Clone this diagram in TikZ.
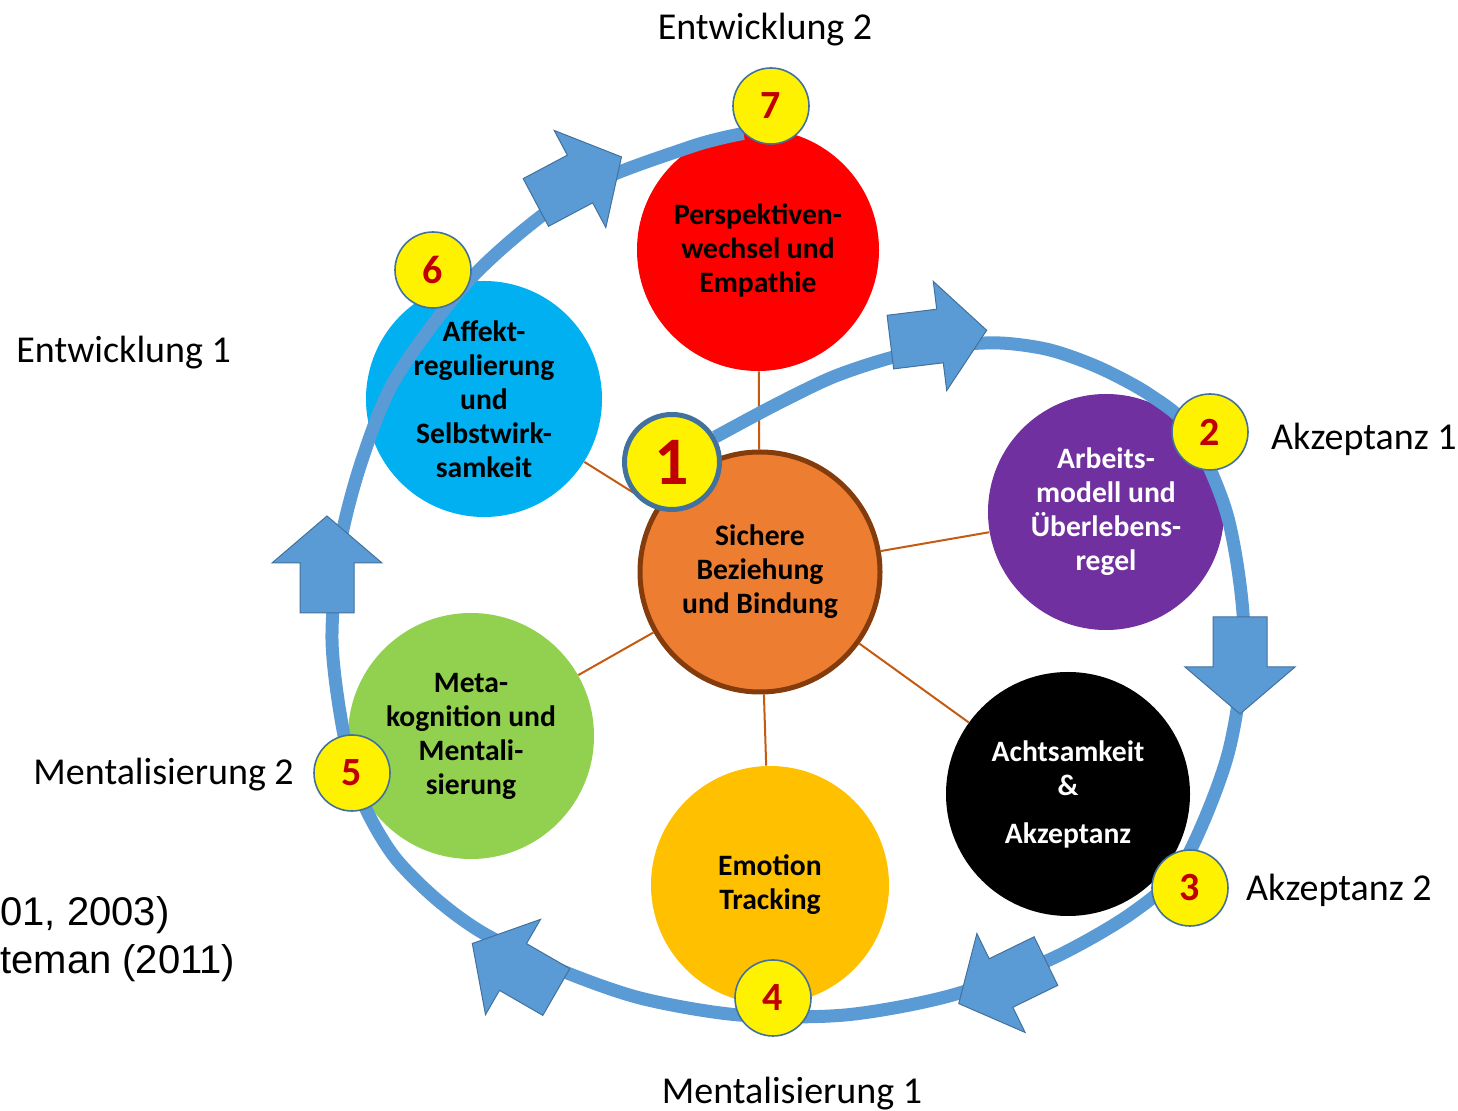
\documentclass[tikz,border=0pt]{standalone}
\usepackage{fontspec}
\setmainfont{Carlito}
\newfontfamily\refsfont{Liberation Sans}
\usepackage{tikz}
\usetikzlibrary{
	calc,
	positioning,
	shapes.geometric
}
\definecolor{ringblue}{HTML}{5B9BD5}
\definecolor{ringedge}{HTML}{41719C}
\definecolor{numred}{HTML}{C00000}
\definecolor{spokecol}{HTML}{C55A11}
\definecolor{bindfill}{HTML}{ED7D31}
\definecolor{bindedge}{HTML}{843C0C}
\definecolor{perspred}{HTML}{FF0000}
\definecolor{affektblue}{HTML}{00B0F0}
\definecolor{arbeitlila}{HTML}{7030A0}
\definecolor{emoorange}{HTML}{FFC000}
\definecolor{metagreen}{HTML}{92D050}
\pgfdeclarelayer{front}
\pgfsetlayers{main,front}

\begin{document}
\begin{tikzpicture}[x=0.5pt,y=-0.5pt,
        stage/.style={circle,minimum size=#1,inner sep=0pt,align=center,
          font=\fontsize{14.8}{17}\selectfont\bfseries},
        badge/.style={circle,draw=ringedge,line width=0.8pt,fill=yellow,
          minimum size=38pt,inner sep=0pt,text=numred,
          font=\fontsize{20}{20}\selectfont\bfseries},
        lab/.style={inner sep=0pt,font=\fontsize{19}{19}\selectfont},
        spoke/.style={draw=spokecol,line width=1pt},
        ring/.style={draw=ringblue,line width=6.5pt},
        blockarrow/.pic={
          \draw[fill=ringblue,draw=ringedge,line width=0.5pt]
            (-50,-27) -- (0,-27) -- (0,-55) -- (47,0) -- (0,55) -- (0,27) -- (-50,27) -- cycle;}]
        \useasboundingbox (0,0) rectangle (1458,1111);
        \clip (0,0) rectangle (1458,1111);

        \node[stage=121pt,fill=perspred] (persp) at (758,250) {Perspektiven-\\wechsel und\\Empathie};
        \node[stage=118pt,fill=affektblue] (affekt) at (484,399) {Affekt-\\regulierung\\und\\Selbstwirk-\\samkeit};
        \node[stage=118pt,fill=arbeitlila,text=white] (arbeit) at (1106,512) {Arbeits-\\modell und\\Überlebens-\\regel};
        \node[stage=122pt,fill=black,text=white] (achtsam) at (1068,794) {Achtsamkeit\\\&\\[7pt]Akzeptanz};
        \node[stage=119pt,fill=emoorange] (emotion) at (770,885) {Emotion\\Tracking};
        \node[stage=123pt,fill=metagreen] (meta) at (471,736) {Meta-\\kognition und\\Mentali-\\sierung};
        \node[stage=120pt,fill=bindfill,draw=bindedge,line width=2.5pt] (bindung) at (760,572) {Sichere\\Beziehung\\und Bindung};

          \draw[spoke] (bindung) -- (persp);
          \draw[spoke] (bindung) -- (affekt);
          \draw[spoke] (bindung) -- (arbeit);
          \draw[spoke] (bindung) -- (achtsam);
          \draw[spoke] (bindung) -- (emotion);
          \draw[spoke] (bindung) -- (meta);

        \begin{pgfonlayer}{front}
        \node[badge,minimum size=47.5pt,line width=2.5pt,font=\fontsize{34}{34}\selectfont\bfseries] (b1) at (672,462) {1};
        \node[badge] (b2) at (1210,432) {2};
        \node[badge] (b3) at (1190,888) {3};
        \node[badge] (b4) at (773,998) {4};
        \node[badge] (b5) at (352,773) {5};
        \node[badge] (b6) at (433,270) {6};
        \node[badge] (b7) at (771,106) {7};
        \end{pgfonlayer}

          \draw[ring] plot[smooth] coordinates {(b1.30) (775,405) (833,377) (890,358) (945,346)
            (1000,343) (1050,350) (1100,368) (1150,395) (1190,430) (1228,518) (1244,636)
            (1228,754) (1183,864) (1132,913) (1049,960) (949,996) (845,1015) (739,1015)
            (640,998) (555,968) (483,933) (435,898) (393,855) (362,800) (343,730) (332,640)
            (340,545) (362,460) (397,376) (475,274) (576,192) (690,147) (b7.225)};

        \pic[rotate=7] at (940,336) {blockarrow};
        \pic[rotate=-90] at (1240,667) {blockarrow};
        \pic[rotate=206] at (1001,983) {blockarrow};
        \pic[rotate=150] at (513,967) {blockarrow};
        \pic[rotate=90] at (327,563) {blockarrow};
        \pic[rotate=28] at (580,179) {blockarrow};

        \node[lab] (entw2) [above=10.5pt of b7, xshift=-3pt] {Entwicklung 2};
        \node[lab] (akz1) [right=11pt of b2, yshift=-3.5pt] {Akzeptanz 1};
        \node[lab] (akz2) [right=8.5pt of b3, yshift=-1pt] {Akzeptanz 2};
        \node[lab] (ment1) [below=20pt of b4, xshift=9.5pt] {Mentalisierung 1};
        \node[lab] (ment2) [left=9.5pt of b5, yshift=-1pt] {Mentalisierung 2};
        \node[lab,anchor=base west] (entw1) at (16,363) {Entwicklung 1};
        \node[lab,font=\refsfont\fontsize{20}{20}\selectfont,anchor=base west] (ref1) at (0,926) {01, 2003)};
        \node[lab,font=\refsfont\fontsize{20}{20}\selectfont,anchor=base west] (ref2) at (0,974) {teman (2011)};
      \end{tikzpicture}
\end{document}
